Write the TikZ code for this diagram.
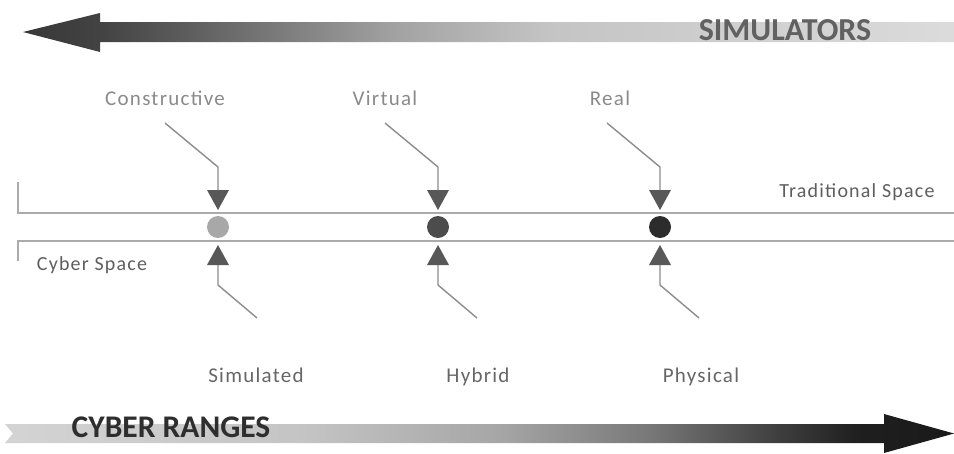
\documentclass[tikz,border=0pt]{standalone}
\usepackage{fontspec}
\setmainfont{Carlito}
\newfontfamily\lblfont[LetterSpace=6]{Carlito}
\usetikzlibrary{calc}
\definecolor{toptxt}{HTML}{8A8A8A}
\definecolor{bottxt}{HTML}{666666}
\definecolor{spacetxt}{HTML}{5E5E5E}
\definecolor{axisline}{HTML}{ABABAB}
\definecolor{connline}{HTML}{8C8C8C}
\definecolor{trifill}{HTML}{585858}
\definecolor{dotA}{HTML}{A8A8A8}
\definecolor{dotB}{HTML}{4C4C4C}
\definecolor{dotC}{HTML}{2C2C2C}
% path bounding box maps onto the 25bp..75bp band of the shading
\pgfdeclarehorizontalshading{simshade}{100bp}{%
  color(0bp)=(black!78); color(25bp)=(black!78); color(29.1bp)=(black!74); color(34.5bp)=(black!62);
  color(45.25bp)=(black!36); color(53.3bp)=(black!23); color(75bp)=(black!14); color(100bp)=(black!14)}
\pgfdeclarehorizontalshading{cybshade}{100bp}{%
  color(0bp)=(black!17); color(25bp)=(black!17); color(40.55bp)=(black!23); color(51.1bp)=(black!35);
  color(59bp)=(black!53); color(65.85bp)=(black!76); color(70.05bp)=(black!88);
  color(75bp)=(black!90); color(100bp)=(black!90)}
\tikzset{
  toplbl/.style={anchor=base, text=toptxt, font=\lblfont\fontsize{21}{25}\selectfont, inner sep=0pt},
  botlbl/.style={anchor=base, text=bottxt, font=\lblfont\fontsize{21}{25}\selectfont, inner sep=0pt},
  spacelbl/.style={anchor=base, text=spacetxt, font=\lblfont\fontsize{20}{24}\selectfont, inner sep=0pt},
  biglbl/.style={anchor=base, font=\bfseries\fontsize{31.5}{35}\selectfont, inner sep=0pt},
  axis/.style={draw=axisline, line width=2pt},
  conn/.style={draw=connline, line width=1.4pt},
  tri/.style={fill=trifill},
}
\begin{document}
\begin{tikzpicture}[x=1pt,y=-1pt]
\useasboundingbox (0,0) rectangle (954,453);
% top arrow (simulators)
\path[shading=simshade] (954,22) -- (100,22) -- (100,13) -- (23,32) -- (100,52) -- (100,42) -- (954,42) -- cycle;
\node[biglbl, text=black!62, font=\bfseries\fontsize{32}{36}\selectfont] (simulators) at (785,40) {SIMULATORS};
% bottom arrow (cyber ranges)
\path[shading=cybshade] (5,424) -- (884,424) -- (884,414) -- (954,433.5) -- (884,453) -- (884,443) -- (5,443) -- (13,433.5) -- cycle;
\node[biglbl, text=black!82] (cyberranges) at (171,437) {CYBER RANGES};
% space lines
\coordinate (tl) at (18,182);
\coordinate (tlc) at (18,213);
\coordinate (tr) at (954,213);
\coordinate (bl) at (18,261);
\coordinate (blc) at (18,241);
\coordinate (br) at (954,241);
\draw[axis] (tl) -- (tlc) -- (tr);
\draw[axis] (bl) -- (blc) -- (br);
\node[spacelbl] (trad) at (857,197) {Traditional Space};
\node[spacelbl] (cyber) at (92,270) {Cyber Space};
% markers
\foreach \x/\n/\c in {218/a/dotA, 438/b/dotB, 660/c/dotC}{
  \coordinate (top\n) at (\x-53,123);
  \coordinate (bend\n) at (\x,167);
  \coordinate (dt\n) at (\x,190);
  \coordinate (ut\n) at (\x,265);
  \coordinate (bbend\n) at (\x,285);
  \coordinate (bot\n) at (\x+39,318);
  \node[circle, fill=\c, minimum size=22pt, inner sep=0pt] (dot\n) at (\x,227) {};
  \fill[tri] (dt\n) ++(-11,0) -- ++(22,0) -- ($(dt\n)+(0,20)$) -- cycle;
  \fill[tri] (ut\n) ++(-11,0) -- ++(22,0) -- ($(ut\n)+(0,-20)$) -- cycle;
  \draw[conn] (top\n) -- (bend\n) -- (dt\n);
  \draw[conn] (ut\n) -- (bbend\n) -- (bot\n);
}
% labels
\node[toplbl] (constructive) at (165,105) {Constructive};
\node[toplbl] (virtual) at (385,105) {Virtual};
\node[toplbl] (real) at (610,105) {Real};
\node[botlbl] (simulated) at (256,382) {Simulated};
\node[botlbl] (hybrid) at (478,382) {Hybrid};
\node[botlbl] (physical) at (701,382) {Physical};
\end{tikzpicture}
\end{document}
